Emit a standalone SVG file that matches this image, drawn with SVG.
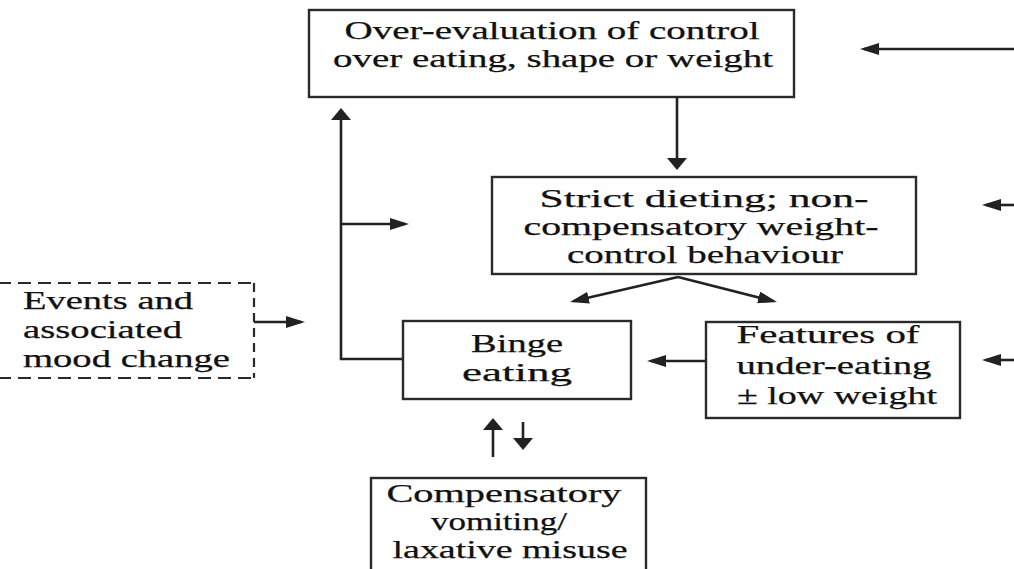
<svg xmlns="http://www.w3.org/2000/svg" width="1014" height="569" viewBox="0 0 1014 569">
<style>
.box{fill:#fff;stroke:#2a2a2a;stroke-width:2.4}
.dash{fill:none;stroke:#2a2a2a;stroke-width:2.2}
.t{font-family:"Liberation Serif","Times New Roman",serif;font-size:25.5px;fill:#111;stroke:#111;stroke-width:0.25}
.m{text-anchor:middle}
.c{fill:none;stroke:#222;stroke-width:2.6}
.h{marker-end:url(#ah)}
.v{marker-end:url(#av)}
</style>
<defs>
<marker id="ah" markerUnits="userSpaceOnUse" markerWidth="19" markerHeight="12" refX="15" refY="6" orient="auto"><path d="M0,0 L19,6 L0,12 z" fill="#222"/></marker>
<marker id="av" markerUnits="userSpaceOnUse" markerWidth="12" markerHeight="20" refX="9" refY="10" orient="auto"><path d="M0,0 L12,10 L0,20 z" fill="#222"/></marker>
</defs>
<rect width="1014" height="569" fill="#fff"/>
<g id="connectors">
<line class="c v" x1="677" y1="97" x2="677" y2="167"/>
<path class="c v" d="M403,359 H341 V111"/>
<line class="c h" x1="341" y1="224" x2="405" y2="224"/>
<line class="c h" x1="254" y1="322" x2="301" y2="322"/>
<line class="c h" x1="678" y1="277" x2="573.9" y2="301.1"/>
<line class="c h" x1="678" y1="277" x2="773.1" y2="301.1"/>
<line class="c h" x1="706" y1="361" x2="651" y2="361"/>
<line class="c h" x1="1014" y1="49" x2="864" y2="49"/>
<line class="c h" x1="1014" y1="205" x2="986" y2="205"/>
<line class="c h" x1="1014" y1="360" x2="986" y2="360"/>
<line class="c v" x1="493" y1="457" x2="493" y2="421"/>
<line class="c v" x1="523" y1="422" x2="523" y2="447"/>
</g>
<g id="overevaluation">
<rect class="box" x="309" y="10" width="485" height="87"/>
<text class="t m" x="552" y="39" textLength="415" lengthAdjust="spacingAndGlyphs">Over-evaluation of control</text>
<text class="t m" x="553" y="67" textLength="440" lengthAdjust="spacingAndGlyphs">over eating, shape or weight</text>
</g>
<g id="dieting">
<rect class="box" x="492" y="177" width="424" height="97"/>
<text class="t m" x="704" y="207" textLength="329" lengthAdjust="spacingAndGlyphs">Strict dieting; non-</text>
<text class="t m" x="701" y="235" textLength="355" lengthAdjust="spacingAndGlyphs">compensatory weight-</text>
<text class="t m" x="705" y="263" textLength="276" lengthAdjust="spacingAndGlyphs">control behaviour</text>
</g>
<g id="events">
<path class="dash" d="M-2,283 H254" stroke-dasharray="13 7"/>
<path class="dash" d="M-2,378 H254" stroke-dasharray="13 7"/>
<path class="dash" d="M254,283 V378" stroke-dasharray="9 6"/>
<text class="t" x="23" y="309" textLength="170" lengthAdjust="spacingAndGlyphs">Events and</text>
<text class="t" x="23" y="338" textLength="159" lengthAdjust="spacingAndGlyphs">associated</text>
<text class="t" x="23" y="367" textLength="207" lengthAdjust="spacingAndGlyphs">mood change</text>
</g>
<g id="binge">
<rect class="box" x="403" y="321" width="228" height="78"/>
<text class="t m" x="517" y="352" textLength="92" lengthAdjust="spacingAndGlyphs">Binge</text>
<text class="t m" x="517" y="381" textLength="110" lengthAdjust="spacingAndGlyphs">eating</text>
</g>
<g id="features">
<rect class="box" x="706" y="322" width="254" height="96"/>
<text class="t m" x="828" y="343" textLength="183" lengthAdjust="spacingAndGlyphs">Features of</text>
<text class="t m" x="834" y="374" textLength="195" lengthAdjust="spacingAndGlyphs">under-eating</text>
<text class="t m" x="837" y="404" textLength="200" lengthAdjust="spacingAndGlyphs">± low weight</text>
</g>
<g id="compensatory">
<rect class="box" x="371" y="478" width="275" height="110"/>
<text class="t m" x="504" y="502" textLength="235" lengthAdjust="spacingAndGlyphs">Compensatory</text>
<text class="t m" x="499" y="530" textLength="136" lengthAdjust="spacingAndGlyphs">vomiting/</text>
<text class="t m" x="510" y="558" textLength="235" lengthAdjust="spacingAndGlyphs">laxative misuse</text>
</g>
</svg>
